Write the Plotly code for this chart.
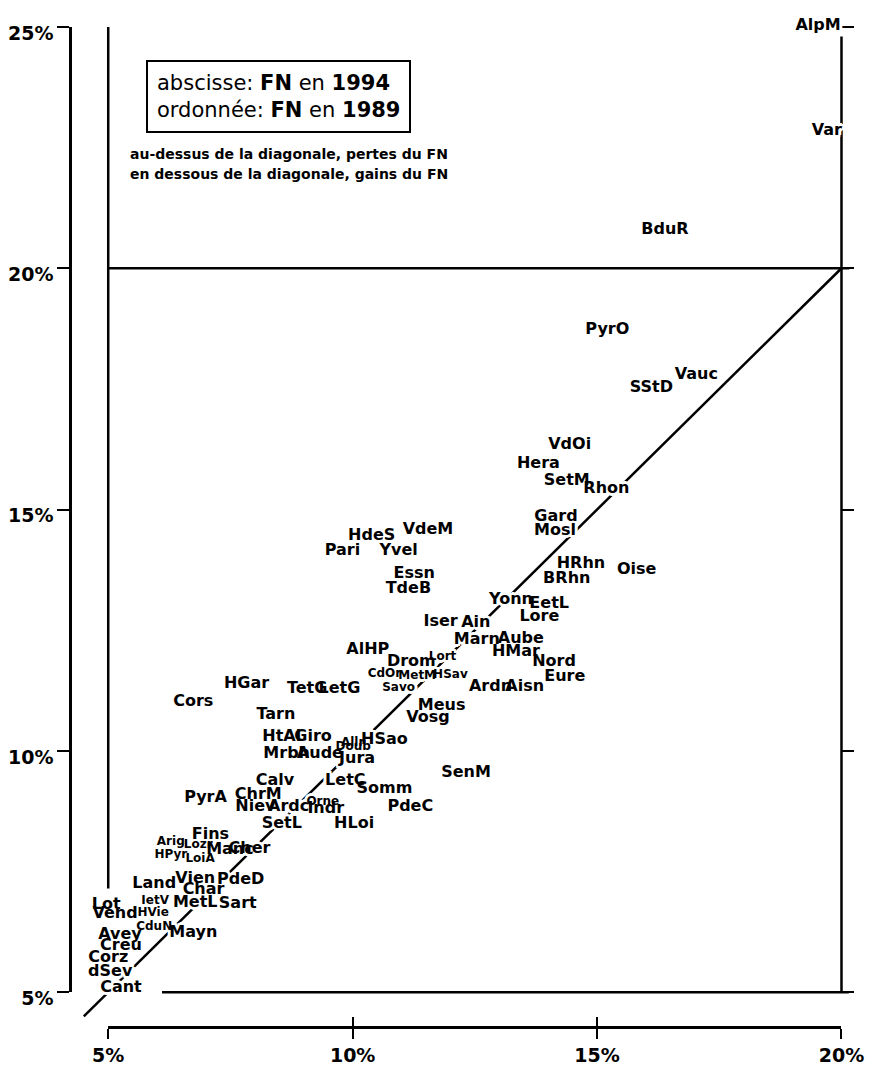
import plotly.graph_objects as go

# ---------------- data ----------------
NAMES = [
    "AlpM", "Var", "BduR", "PyrO", "Vauc", "SStD", "VdOi", "Hera", "SetM", "Rhon",
    "Gard", "Mosl", "HRhn", "BRhn", "Oise", "VdeM", "HdeS", "Pari", "Yvel", "Essn",
    "TdeB", "Yonn", "EetL", "Lore", "Iser", "Ain", "Marn", "Aube", "HMar", "Nord",
    "Eure", "Ardn", "Aisn", "AlHP", "Drom", "Lort", "CdOr", "MetM", "HSav", "Savo",
    "TetG", "LetG", "Meus", "Vosg", "HGar", "Cors", "Tarn", "HtAl", "Giro", "Mrbh",
    "Aude", "Allr", "Doub", "Jura", "HSao", "Calv", "LetC", "Somm", "ChrM", "PyrA",
    "Niev", "Ardc", "Orne", "Indr", "SetL", "HLoi", "PdeC", "SenM", "Fins", "Arig",
    "Lozr", "Manc", "Cher", "HPyr", "LoiA", "Land", "Vien", "PdeD", "Char", "IetV",
    "MetL", "Sart", "Lot", "Vend", "HVie", "Avey", "CduN", "Mayn", "Creu", "Corz",
    "dSev", "Cant",
]
FN_1994 = [
    19.52, 19.70, 16.39, 15.21, 17.03, 16.11, 14.44, 13.80, 14.38, 15.19,
    14.16, 14.14, 14.67, 14.38, 15.81, 11.54, 10.39, 9.79, 10.94, 11.26,
    11.14, 13.24, 14.02, 13.82, 11.80, 12.52, 12.54, 13.44, 13.34, 14.12,
    14.34, 12.82, 13.52, 10.31, 11.20, 11.84, 10.65, 11.32, 12.00, 10.94,
    9.07, 9.73, 11.82, 11.54, 7.83, 6.74, 8.43, 8.55, 9.19, 8.65,
    9.33, 10.00, 10.01, 10.09, 10.65, 8.41, 9.85, 10.65, 8.07, 6.99,
    8.01, 8.69, 9.39, 9.45, 8.55, 10.03, 11.18, 12.32, 7.09, 6.28,
    6.84, 7.49, 7.89, 6.28, 6.88, 5.94, 6.78, 7.71, 6.95, 5.96,
    6.78, 7.65, 4.96, 5.14, 5.92, 5.24, 5.94, 6.74, 5.26, 5.00,
    5.04, 5.26,
]
FN_1989 = [
    25.03, 22.84, 20.80, 18.72, 17.79, 17.52, 16.33, 15.94, 15.59, 15.42,
    14.85, 14.56, 13.88, 13.57, 13.75, 14.58, 14.45, 14.15, 14.15, 13.67,
    13.36, 13.12, 13.05, 12.77, 12.66, 12.64, 12.29, 12.31, 12.04, 11.84,
    11.53, 11.32, 11.32, 12.09, 11.84, 11.94, 11.59, 11.55, 11.57, 11.30,
    11.28, 11.28, 10.93, 10.68, 11.39, 11.01, 10.75, 10.29, 10.29, 9.94,
    9.94, 10.17, 10.07, 9.84, 10.23, 9.37, 9.37, 9.20, 9.08, 9.02,
    8.83, 8.83, 8.93, 8.79, 8.48, 8.48, 8.83, 9.55, 8.25, 8.11,
    8.05, 7.95, 7.97, 7.84, 7.76, 7.25, 7.35, 7.33, 7.12, 6.89,
    6.85, 6.83, 6.81, 6.61, 6.63, 6.19, 6.36, 6.22, 5.95, 5.70,
    5.41, 5.08,
]
# labels printed in a smaller type in the original
SMALL_LABELS = {"Lort", "CdOr", "MetM", "HSav", "Savo", "Allr", "Doub", "Orne",
                "Arig", "Lozr", "HPyr", "LoiA", "IetV", "HVie", "CduN"}

X_TICKVALS = [5, 10, 15, 20]
X_TICKTEXT = ["5%", "10%", "15%", "20%"]
Y_TICKVALS = [5, 10, 15, 20, 25]
Y_TICKTEXT = ["5%", "10%", "15%", "20%", "25%"]

BOX_LINES = ["abscisse: <b>FN</b> en <b>1994</b>", "ordonnée: <b>FN</b> en <b>1989</b>"]
NOTE_LINES = ["au-dessus de la diagonale, pertes du FN",
              "en dessous de la diagonale, gains du FN"]

# ---------------- geometry ----------------
# the page body adds an 8px offset, so the figure is 8px smaller
W, H = 878, 1059
ML, MR, MT, MB = 59, 10, 0, 40
FULL_X = [4.218, 20.44]   # whole paper area in data units
FULL_Y = [4.278, 25.289]
AX_X = [5, 20]
AX_Y = [5, 25]


def frac(v, r):
    return (v - r[0]) / (r[1] - r[0])


xdom = [frac(AX_X[0], FULL_X), frac(AX_X[1], FULL_X)]
ydom = [frac(AX_Y[0], FULL_Y), frac(AX_Y[1], FULL_Y)]

FONT = "DejaVu Sans"
HALO = ("3px 0 0 #fff, -3px 0 0 #fff, 0 3px 0 #fff, 0 -3px 0 #fff, "
        "2px 2px 0 #fff, -2px -2px 0 #fff, 2px -2px 0 #fff, -2px 2px 0 #fff")

fig = go.Figure()

# diagonal y = x
fig.add_trace(go.Scatter(x=[4.5, AX_X[1]], y=[4.5, AX_X[1]], mode="lines",
                         line=dict(color="black", width=2.5),
                         xaxis="x3", yaxis="y3", hoverinfo="skip"))
# frame lines (x = 5, y = 20, x = 20, y = 5)
fx = [5, 5, None, 5, 20.16, None, 20, 20, None, 6.1, 20.15]
fy = [7.15, 25, None, 20, 20, None, 5, 24.8, None, 5, 5]
fig.add_trace(go.Scatter(x=fx, y=fy, mode="lines",
                         line=dict(color="black", width=2.5),
                         xaxis="x3", yaxis="y3", hoverinfo="skip", connectgaps=False))

big = [i for i, n in enumerate(NAMES) if n not in SMALL_LABELS]
small = [i for i, n in enumerate(NAMES) if n in SMALL_LABELS]
groups = ((big, 16), (small, 12))
# white halos first (they break the lines under the labels), then the labels
for color, shadow in (("white", HALO), ("black", "none")):
    for idx, size in groups:
        fig.add_trace(go.Scatter(
            x=[FN_1994[i] for i in idx], y=[FN_1989[i] for i in idx],
            text=[NAMES[i] for i in idx], mode="text", textposition="middle center",
            textfont=dict(family=FONT, size=size, color=color, weight="bold", shadow=shadow),
            cliponaxis=False, xaxis="x3", yaxis="y3",
            hoverinfo="text" if color == "black" else "skip"))

# dummy traces so the visible axes exist
fig.add_trace(go.Scatter(x=[5], y=[5], mode="markers", marker=dict(opacity=0),
                         xaxis="x", yaxis="y", hoverinfo="skip"))
fig.add_trace(go.Scatter(x=[5], y=[5], mode="markers", marker=dict(opacity=0),
                         xaxis="x2", yaxis="y2", hoverinfo="skip"))

tickfont = dict(family=FONT, size=19, color="black", weight="bold")

fig.update_layout(
    width=W, height=H, showlegend=False,
    margin=dict(l=ML, r=MR, t=MT, b=MB, pad=0),
    paper_bgcolor="white", plot_bgcolor="rgba(0,0,0,0)",
    xaxis=dict(domain=xdom, range=AX_X, anchor="free", position=0,
               showline=True, linecolor="black", linewidth=2.5,
               ticks="outside", ticklen=10, tickwidth=2, tickcolor="black",
               tickvals=X_TICKVALS, ticktext=X_TICKTEXT, tickfont=tickfont,
               ticklabelstandoff=0, showgrid=False, zeroline=False),
    xaxis2=dict(overlaying="x", range=AX_X, anchor="free", position=0,
                showline=False, ticks="inside", ticklen=10, tickwidth=2,
                tickcolor="black", tickvals=X_TICKVALS, showticklabels=False,
                showgrid=False, zeroline=False),
    yaxis=dict(domain=ydom, range=AX_Y, anchor="free", position=0,
               showline=True, linecolor="black", linewidth=2.5,
               ticks="outside", ticklen=12, tickwidth=2, tickcolor="black",
               tickvals=Y_TICKVALS, ticktext=Y_TICKTEXT, tickfont=tickfont,
               ticklabelstandoff=0, ticklabelshift=6,
               showgrid=False, zeroline=False),
    yaxis2=dict(overlaying="y", side="right", range=AX_Y, anchor="free",
                position=xdom[1], showline=False, ticks="outside", ticklen=12,
                tickwidth=2, tickcolor="black", tickvals=Y_TICKVALS,
                showticklabels=False, showgrid=False, zeroline=False),
    xaxis3=dict(domain=[0, 1], range=FULL_X, anchor="y3", visible=False),
    yaxis3=dict(domain=[0, 1], range=FULL_Y, anchor="x3", visible=False),
    annotations=[
        dict(x=8.49, y=23.56, xref="x3", yref="y3", showarrow=False,
             text="<br>".join(BOX_LINES), align="left",
             font=dict(family=FONT, size=21, color="black"),
             bordercolor="black", borderwidth=2, borderpad=9, bgcolor="white"),
        dict(x=8.69, y=22.36, xref="x3", yref="y3", showarrow=False,
             text=NOTE_LINES[0], font=dict(family=FONT, size=14, color="black", weight="bold")),
        dict(x=8.69, y=21.95, xref="x3", yref="y3", showarrow=False,
             text=NOTE_LINES[1], font=dict(family=FONT, size=14, color="black", weight="bold")),
    ],
)

fig.write_html("out.html")
